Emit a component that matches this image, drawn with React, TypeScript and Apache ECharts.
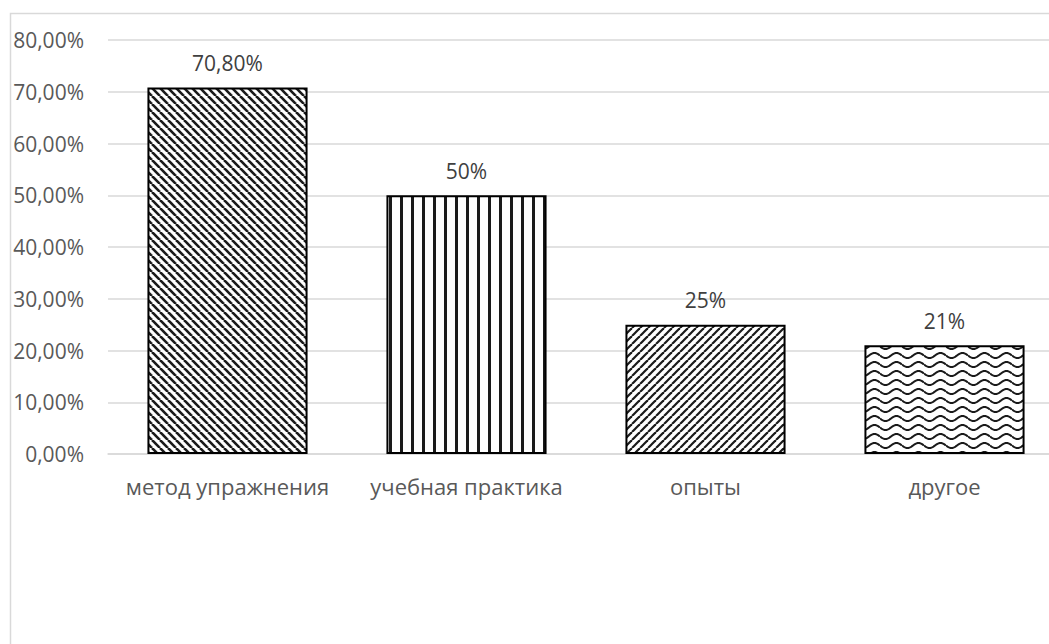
import React, { useEffect, useRef } from "react";
import * as echarts from "echarts";

const categories = ["метод упражнения", "учебная практика", "опыты", "другое"];
const values = [70.8, 50, 25, 21];
const valueLabels = ["70,80%", "50%", "25%", "21%"];
const yTicks = { min: 0, max: 80, interval: 10 };

function makeCanvas(w: number, h: number, draw: (ctx: CanvasRenderingContext2D) => void) {
  const c = document.createElement("canvas");
  c.width = w;
  c.height = h;
  const ctx = c.getContext("2d")!;
  ctx.fillStyle = "#ffffff";
  ctx.fillRect(0, 0, w, h);
  draw(ctx);
  return c;
}

function patterns() {
  const p1 = makeCanvas(8, 8, (ctx) => {
    ctx.strokeStyle = "#1a1a1a";
    ctx.lineWidth = 2.6;
    for (const o of [-8, 0, 8]) {
      ctx.beginPath();
      ctx.moveTo(o, 0);
      ctx.lineTo(o + 8, 8);
      ctx.stroke();
    }
  });
  const p2 = makeCanvas(11, 8, (ctx) => {
    ctx.fillStyle = "#1a1a1a";
    ctx.fillRect(4, 0, 3, 8);
  });
  const p3 = makeCanvas(8, 8, (ctx) => {
    ctx.strokeStyle = "#1a1a1a";
    ctx.lineWidth = 2.2;
    for (const o of [-8, 0, 8]) {
      ctx.beginPath();
      ctx.moveTo(o, 8);
      ctx.lineTo(o + 8, 0);
      ctx.stroke();
    }
  });
  const p4 = makeCanvas(22, 9, (ctx) => {
    ctx.strokeStyle = "#1a1a1a";
    ctx.lineWidth = 2;
    ctx.beginPath();
    for (let x = 0; x <= 22; x += 0.5) {
      const y = 4.5 + 2.5 * Math.sin((2 * Math.PI * x) / 22);
      if (x === 0) ctx.moveTo(x, y);
      else ctx.lineTo(x, y);
    }
    ctx.stroke();
  });
  return [p1, p2, p3, p4];
}

export default function App() {
  const ref = useRef<HTMLDivElement>(null);
  useEffect(() => {
    document.body.style.overflow = "hidden";
    const chart = echarts.init(ref.current!, undefined, { renderer: "svg" });
    const pats = patterns();
    const font = "'Open Sans', 'Noto Sans', sans-serif";
    chart.setOption({
      animation: false,
      backgroundColor: "#ffffff",
      graphic: [
        {
          type: "rect",
          shape: { x: 10.5, y: 13.5, width: 2000, height: 2000 },
          style: { fill: "none", stroke: "#d9d9d9", lineWidth: 1.5 },
          silent: true,
        },
      ],
      grid: { left: 108, top: 40, right: 16, bottom: 226, containLabel: false },
      xAxis: {
        type: "category",
        data: categories,
        axisLine: { show: true, lineStyle: { color: "#d9d9d9", width: 1.5 } },
        axisTick: { show: false },
        axisLabel: {
          color: "#595959",
          fontSize: 22,
          fontFamily: font,
          margin: 21,
          interval: 0,
          hideOverlap: false,
        },
      },
      yAxis: {
        type: "value",
        min: yTicks.min,
        max: yTicks.max,
        interval: yTicks.interval,
        axisLine: { show: false },
        axisTick: { show: false },
        splitLine: { lineStyle: { color: "#d9d9d9", width: 1.5 } },
        axisLabel: {
          color: "#595959",
          fontSize: 21,
          fontFamily: font,
          margin: 24,
          formatter: (v: number) => v.toFixed(2).replace(".", ",") + "%",
        },
      },
      series: [
        {
          type: "bar",
          barCategoryGap: "33%",
          data: values.map((v, i) => ({
            value: v,
            itemStyle: {
              color: { image: pats[i], repeat: "repeat" },
              borderColor: "#000000",
              borderWidth: 2,
            },
          })),
          label: {
            show: true,
            position: "top",
            distance: 14,
            color: "#404040",
            fontSize: 21,
            fontFamily: font,
            formatter: (p: any) => valueLabels[p.dataIndex],
          },
        },
      ],
    });
    return () => chart.dispose();
  }, []);
  return (
    <div
      ref={ref}
      style={{ position: "fixed", left: 0, top: 0, width: 1080, height: 680 }}
    />
  );
}
